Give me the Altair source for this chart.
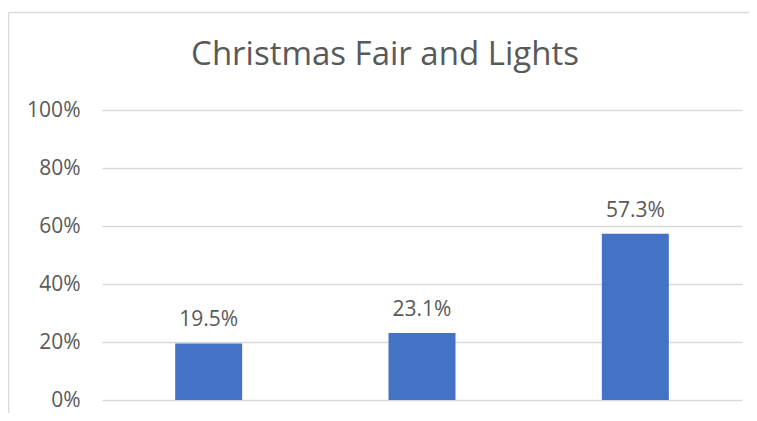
import altair as alt
import pandas as pd

categories = ["Group 1", "Group 2", "Group 3"]
values = [0.195, 0.231, 0.573]
y_ticks = [0, 0.2, 0.4, 0.6, 0.8, 1.0]
title_text = "Christmas Fair and Lights"

df = pd.DataFrame({"cat": categories, "val": values})
FONT = "Open Sans"
TXT = "#595959"
BORDER = "#D9D9D9"

x_enc = alt.X("cat:N", sort=categories, axis=None,
              scale=alt.Scale(paddingInner=0.686, paddingOuter=0.343))
y_enc = alt.Y("val:Q", title=None,
              scale=alt.Scale(domain=[0, 1], nice=False),
              axis=alt.Axis(values=y_ticks, format="%", domain=False, ticks=False,
                            labelPadding=22, labelFont=FONT, labelFontSize=21,
                            labelColor=TXT, gridColor=BORDER, gridWidth=1.3))

bars = alt.Chart(df).mark_bar(color="#4472C4").encode(x=x_enc, y=y_enc)
labels = alt.Chart(df).mark_text(font=FONT, fontSize=21, color=TXT,
                                 baseline="alphabetic", dy=-17).encode(
    x=x_enc, y=y_enc, text=alt.Text("val:Q", format=".1%"))

one = pd.DataFrame({"a": [0]})
frame_left = alt.Chart(one).mark_rule(color=BORDER, strokeWidth=1.5, clip=False).encode(
    x=alt.value(-93.5), y=alt.value(-97.5), y2=alt.value(330))
frame_top = alt.Chart(one).mark_rule(color=BORDER, strokeWidth=1.5, clip=False).encode(
    x=alt.value(-93.5), x2=alt.value(700), y=alt.value(-97.5))

chart = alt.layer(frame_left, frame_top, bars, labels).properties(
    width=640, height=290,
    title=alt.TitleParams(title_text, font=FONT, fontSize=33, fontWeight="normal",
                          color=TXT, anchor="middle", frame="group", dx=-37, offset=-60),
    autosize=alt.AutoSizeParams(type="none"),
    padding={"left": 94, "top": 102, "right": 7, "bottom": 13},
).configure(background="white").configure_view(stroke=None)

chart.save("out.html", embed_options={"renderer": "svg", "actions": False})
